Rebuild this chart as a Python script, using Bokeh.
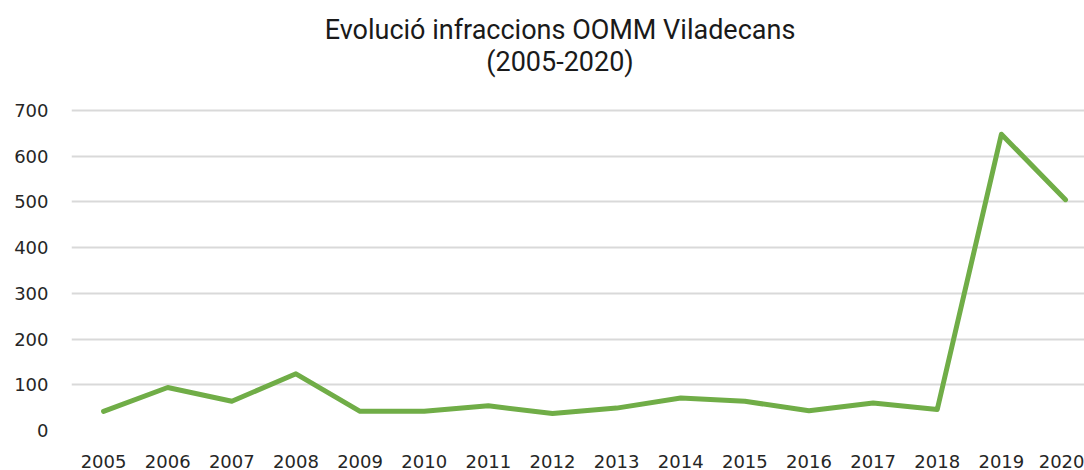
from bokeh.plotting import figure
from bokeh.models import FixedTicker, Range1d, Label
from bokeh.embed import file_html
from bokeh.resources import INLINE

years = [2005, 2006, 2007, 2008, 2009, 2010, 2011, 2012, 2013, 2014, 2015, 2016, 2017, 2018, 2019, 2020]
infraccions = [42, 94, 64, 124, 42, 42, 54, 37, 49, 71, 64, 43, 60, 46, 648, 505]
y_ticks = [0, 100, 200, 300, 400, 500, 600, 700]
title_lines = ["Evolució infraccions OOMM Viladecans", "(2005-2020)"]

W, H = 1084, 470
frame_left = 71
zero_px = 430          # pixel row of value 0
px_per_unit = 320 / 700.0
frame_h = zero_px      # frame spans from the top of the canvas down to the zero line
step = 64.13
frame_w = W - frame_left
x0 = years[0] - 0.5
x1 = x0 + frame_w / step
y1 = frame_h / px_per_unit

p = figure(width=W, height=H, output_backend="svg", toolbar_location=None, title=None,
           x_range=Range1d(x0, x1), y_range=Range1d(0, y1),
           min_border_left=frame_left, min_border_right=0,
           min_border_top=0, min_border_bottom=H - frame_h)
p.frame_width = frame_w
p.frame_height = frame_h
p.outline_line_color = None
p.background_fill_color = "white"
p.border_fill_color = "white"

p.line(years, infraccions, line_color="#70ad47", line_width=5,
       line_join="round", line_cap="round")

tick_font = "DejaVu Sans"
for ax in (p.xaxis[0], p.yaxis[0]):
    ax.axis_line_color = None
    ax.major_tick_line_color = None
    ax.minor_tick_line_color = None
    ax.major_label_text_font = tick_font
    ax.major_label_text_font_size = "18px"
    ax.major_label_text_color = "#262626"

p.xaxis.ticker = FixedTicker(ticks=years)
p.xaxis.major_label_standoff = 18
p.yaxis.ticker = FixedTicker(ticks=y_ticks)
p.yaxis.major_label_standoff = 17

p.xgrid.grid_line_color = None
p.ygrid.grid_line_color = "#d9d9d9"
p.ygrid.grid_line_width = 2

def y_at(py):
    return (zero_px - py) / px_per_unit
def x_at(px):
    return x0 + (px - frame_left) / step

for t, base in zip(title_lines, (29, 61)):
    p.add_layout(Label(x=x_at(559.5), y=y_at(base), text=t,
                       text_align="center", text_baseline="alphabetic",
                       text_font="Roboto", text_font_size="27px",
                       text_color="#1a1a1a"))

open("out.html", "w").write(file_html(p, INLINE))
